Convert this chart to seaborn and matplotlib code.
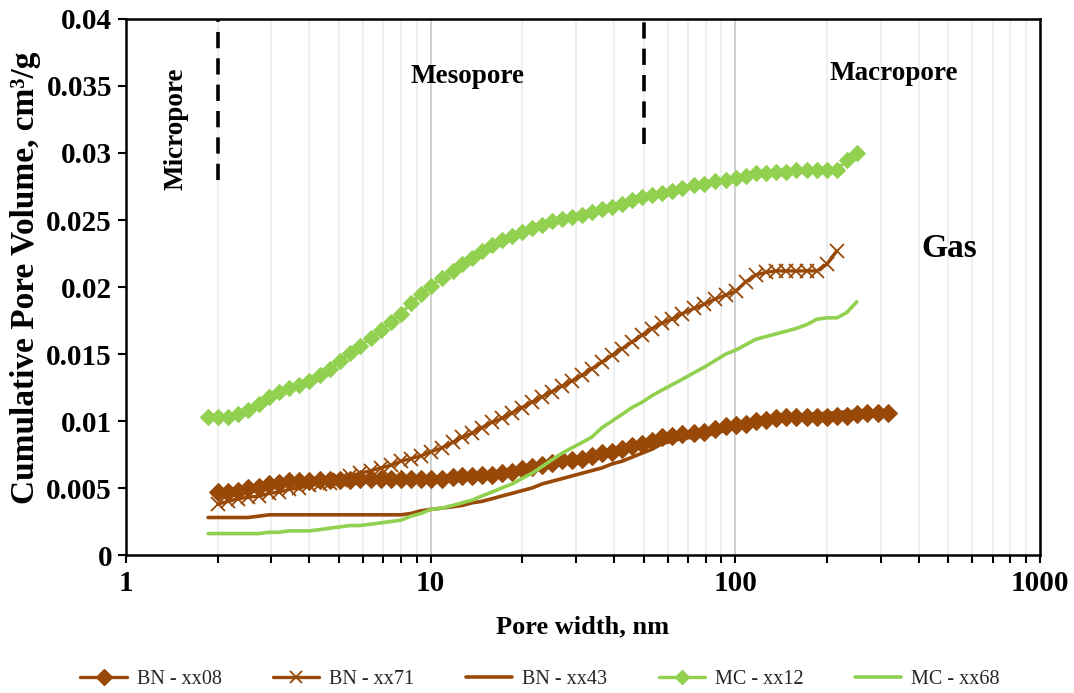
import numpy as np
import pandas as pd
import matplotlib
matplotlib.use("Agg")
import matplotlib.pyplot as plt
from matplotlib.ticker import FixedLocator, FuncFormatter, NullFormatter
from matplotlib.lines import Line2D
import seaborn as sns

# Pore widths (nm) of the DFT bins shared by all samples
pore_width = [1.86, 2.00, 2.16, 2.33, 2.51, 2.73, 2.95, 3.18, 3.43, 3.70,
              3.99, 4.33, 4.67, 5.04, 5.44, 5.86, 6.37, 6.87, 7.41, 7.99,
              8.62, 9.29, 10.0, 10.9, 11.8, 12.7, 13.7, 14.7, 15.9, 17.1,
              18.5, 19.9, 21.5, 23.2, 25.0, 27.0, 29.1, 31.4, 33.8, 36.5,
              39.4, 42.5, 45.8, 49.4, 53.3, 57.4, 61.9, 66.8, 73.1, 78.9,
              85.7, 93.1, 100.5, 108.3, 116.8, 126.0, 135.9, 146.6, 158.1, 171.8,
              185.3, 199.8, 215.5, 232.4, 250.6, 270.3, 294.0, 317.0]

# Cumulative pore volume (cm3/g); first bin index of each series given by *_start
bn_xx08_start = 1
bn_xx08 = [0.0047, 0.0047, 0.0048, 0.0050, 0.0051, 0.0053, 0.0054, 0.0055, 0.0055, 0.0055,
           0.0056, 0.0056, 0.0056, 0.0056, 0.0057, 0.0057, 0.0057, 0.0057, 0.0057, 0.0057,
           0.0057, 0.0057, 0.0057, 0.0058, 0.0059, 0.0059, 0.0060, 0.0060, 0.0061, 0.0062,
           0.0064, 0.0066, 0.0067, 0.0069, 0.0071, 0.0071, 0.0072, 0.0074, 0.0076, 0.0077,
           0.0079, 0.0081, 0.0083, 0.0085, 0.0088, 0.0089, 0.0090, 0.0091, 0.0092, 0.0094,
           0.0096, 0.0097, 0.0098, 0.0100, 0.0101, 0.0102, 0.0103, 0.0103, 0.0103, 0.0103,
           0.0103, 0.0104, 0.0104, 0.0105, 0.0106, 0.0106, 0.0106]

bn_xx71_start = 1
bn_xx71 = [0.0038, 0.0040, 0.0042, 0.0043, 0.0044, 0.0046, 0.0047, 0.0049, 0.0050, 0.0052,
           0.0053, 0.0054, 0.0056, 0.0059, 0.0061, 0.0063, 0.0065, 0.0067, 0.0070, 0.0072,
           0.0074, 0.0077, 0.0080, 0.0084, 0.0088, 0.0091, 0.0095, 0.0099, 0.0102, 0.0106,
           0.0110, 0.0114, 0.0118, 0.0122, 0.0126, 0.0130, 0.0134, 0.0139, 0.0144, 0.0149,
           0.0154, 0.0159, 0.0164, 0.0169, 0.0173, 0.0176, 0.0180, 0.0184, 0.0187, 0.0191,
           0.0194, 0.0197, 0.0204, 0.0209, 0.0211, 0.0212, 0.0212, 0.0212, 0.0212, 0.0212,
           0.0217, 0.0227]

bn_xx43_start = 0
bn_xx43 = [0.0028, 0.0028, 0.0028, 0.0028, 0.0028, 0.0029, 0.0030, 0.0030, 0.0030, 0.0030,
           0.0030, 0.0030, 0.0030, 0.0030, 0.0030, 0.0030, 0.0030, 0.0030, 0.0030, 0.0030,
           0.0031, 0.0033, 0.0034, 0.0035, 0.0036, 0.0037, 0.0039, 0.0040, 0.0042, 0.0044,
           0.0046, 0.0048, 0.0050, 0.0053, 0.0055, 0.0057, 0.0059, 0.0061, 0.0063, 0.0065,
           0.0068, 0.0070, 0.0073, 0.0076, 0.0079, 0.0083, 0.0085, 0.0087, 0.0088, 0.0089,
           0.0091, 0.0093, 0.0096, 0.0098, 0.0100, 0.0101, 0.0102, 0.0103, 0.0104, 0.0105,
           0.0105, 0.0106, 0.0106, 0.0107, 0.0107, 0.0108]

mc_xx12_start = 0
mc_xx12 = [0.0103, 0.0103, 0.0103, 0.0105, 0.0108, 0.0113, 0.0118, 0.0122, 0.0125, 0.0127,
           0.0130, 0.0134, 0.0139, 0.0145, 0.0151, 0.0156, 0.0162, 0.0168, 0.0174, 0.0180,
           0.0188, 0.0195, 0.0201, 0.0207, 0.0212, 0.0217, 0.0222, 0.0227, 0.0231, 0.0235,
           0.0238, 0.0241, 0.0244, 0.0246, 0.0249, 0.0251, 0.0252, 0.0254, 0.0256, 0.0258,
           0.0260, 0.0262, 0.0265, 0.0267, 0.0269, 0.0270, 0.0272, 0.0274, 0.0276, 0.0277,
           0.0279, 0.0280, 0.0281, 0.0283, 0.0285, 0.0285, 0.0286, 0.0286, 0.0287, 0.0287,
           0.0287, 0.0287, 0.0287, 0.0295, 0.0300]

mc_xx68_start = 0
mc_xx68 = [0.0016, 0.0016, 0.0016, 0.0016, 0.0016, 0.0016, 0.0017, 0.0017, 0.0018, 0.0018,
           0.0018, 0.0019, 0.0020, 0.0021, 0.0022, 0.0022, 0.0023, 0.0024, 0.0025, 0.0026,
           0.0029, 0.0031, 0.0034, 0.0035, 0.0037, 0.0039, 0.0041, 0.0044, 0.0047, 0.0050,
           0.0053, 0.0057, 0.0061, 0.0066, 0.0071, 0.0076, 0.0080, 0.0084, 0.0088, 0.0095,
           0.0100, 0.0105, 0.0110, 0.0114, 0.0119, 0.0123, 0.0127, 0.0131, 0.0136, 0.0140,
           0.0145, 0.0150, 0.0153, 0.0157, 0.0161, 0.0163, 0.0165, 0.0167, 0.0169, 0.0172,
           0.0176, 0.0177, 0.0177, 0.0181, 0.0189]

series_labels = ["BN - xx08", "BN - xx71", "BN - xx43", "MC - xx12", "MC - xx68"]
x_ticks = [1, 10, 100, 1000]
y_ticks = [0, 0.005, 0.01, 0.015, 0.02, 0.025, 0.03, 0.035, 0.04]
region_bounds = [2, 50]

BROWN = "#984807"
GREEN = "#92D050"

sns.set_theme(style="white")
plt.rcParams["font.family"] = ["Liberation Serif", "DejaVu Serif"]

fig = plt.figure(figsize=(10.74, 6.93), dpi=100)
ax = fig.add_axes([0.1173, 0.1991, 0.8510, 0.7735])


def frame(values, start):
    return pd.DataFrame({"w": pore_width[start:start + len(values)], "v": values})


styles = [
    (bn_xx08, bn_xx08_start, dict(color=BROWN, lw=2.4, marker="D", ms=9.5, mec=BROWN, mfc=BROWN)),
    (bn_xx71, bn_xx71_start, dict(color=BROWN, lw=2.4, marker="x", ms=10.5, mew=1.3, mec=BROWN)),
    (bn_xx43, bn_xx43_start, dict(color=BROWN, lw=2.6)),
    (mc_xx12, mc_xx12_start, dict(color=GREEN, lw=2.4, marker="D", ms=8.5, mec=GREEN, mfc=GREEN)),
    (mc_xx68, mc_xx68_start, dict(color=GREEN, lw=2.6)),
]

handles = []
for (vals, start, kw), lab in zip(styles, series_labels):
    sns.lineplot(data=frame(vals, start), x="w", y="v", ax=ax, sort=False,
                 estimator=None, legend=False, **kw)
    hk = dict(kw)
    if "ms" in hk:
        hk["ms"] = hk["ms"] * 0.85
    handles.append(Line2D([], [], **hk))

ax.set_xscale("log")
ax.set_xlim(1, 1000)
ax.set_ylim(0, 0.04)

# Region boundaries (micro / meso / macro)
ax.plot([region_bounds[0]] * 2, [0.028, 0.04], color="black", lw=2.6,
        dashes=(4.5, 2.8), clip_on=False)
ax.plot([region_bounds[1]] * 2, [0.0307, 0.04], color="black", lw=2.6,
        dashes=(4.5, 2.8), clip_on=False)

ax.xaxis.set_major_locator(FixedLocator(x_ticks))
ax.xaxis.set_major_formatter(FuncFormatter(lambda v, p: f"{v:g}"))
ax.xaxis.set_minor_locator(FixedLocator([m * d for d in (1, 10, 100) for m in range(2, 10)]))
ax.xaxis.set_minor_formatter(NullFormatter())
ax.yaxis.set_major_locator(FixedLocator(y_ticks))
ax.yaxis.set_major_formatter(FuncFormatter(lambda v, p: f"{v:g}"))

ax.grid(which="major", axis="x", color="#cfcfcf", lw=1.4)
ax.grid(which="minor", axis="x", color="#ebebeb", lw=1.2)
ax.grid(which="major", axis="y", visible=False)
ax.set_axisbelow(True)

for sp in ax.spines.values():
    sp.set_color("black")
    sp.set_linewidth(1.8)

ax.tick_params(axis="both", which="both", direction="out", color="black",
               width=1.5, length=6, bottom=True, left=True)
ax.tick_params(axis="x", which="major", pad=5)
ax.tick_params(axis="y", which="major", pad=4)
for lbl in ax.get_xticklabels() + ax.get_yticklabels():
    lbl.set_fontweight("bold")
    lbl.set_fontsize(21)
    lbl.set_color("black")

ax.set_xlabel("Pore width, nm", fontsize=19, fontweight="bold", color="black")
ax.set_ylabel("Cumulative Pore Volume, cm³/g", fontsize=24, fontweight="bold",
              color="black")
ax.xaxis.set_label_coords(0.5, -0.112)
ax.yaxis.set_label_coords(-0.093, 0.517)

txt = dict(fontweight="bold", color="black", ha="center", va="center")
ax.text(1.46, 0.0318, "Micropore", rotation=90, fontsize=19.5, **txt)
ax.text(13.2, 0.0357, "Mesopore", fontsize=19.5, **txt)
ax.text(330, 0.0359, "Macropore", fontsize=19.5, **txt)
ax.text(505, 0.0229, "Gas", fontsize=24, **txt)

fig.legend(handles, series_labels, loc="center", bbox_to_anchor=(0.503, 0.019),
           ncol=5, frameon=False, fontsize=14.5, handlelength=2.3,
           columnspacing=2.55, handletextpad=0.5)

fig.savefig("out.png", dpi=100)
